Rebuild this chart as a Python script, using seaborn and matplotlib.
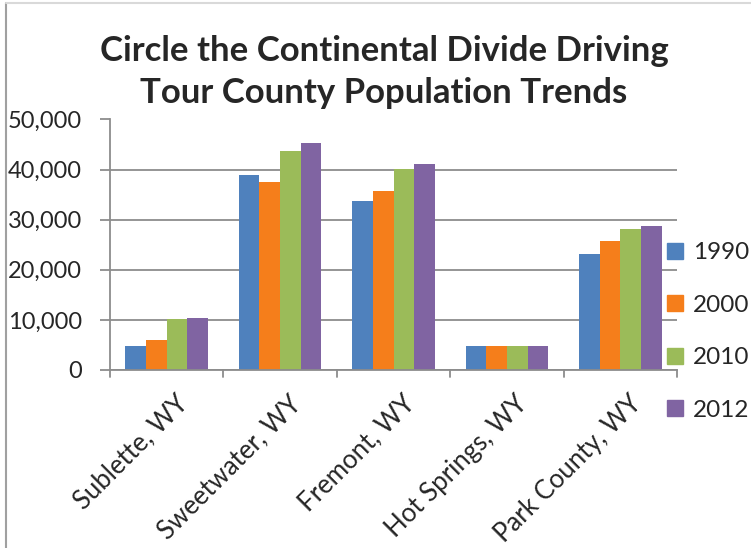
import matplotlib
matplotlib.use("Agg")
import matplotlib.pyplot as plt
import matplotlib.ticker as mticker
import matplotlib.transforms as mtransforms
from matplotlib.lines import Line2D
import seaborn as sns
import pandas as pd

counties = ["Sublette, WY", "Sweetwater, WY", "Fremont, WY", "Hot Springs, WY", "Park County, WY"]
years = ["1990", "2000", "2010", "2012"]
pop_1990 = [4843, 38823, 33662, 4809, 23178]
pop_2000 = [5920, 37613, 35804, 4882, 25786]
pop_2010 = [10247, 43806, 40123, 4812, 28205]
pop_2012 = [10300, 45267, 41110, 4812, 28702]
colors = ["#4F81BD", "#F57E1B", "#9BBB59", "#8064A2"]

rows = []
for yr, vals in zip(years, [pop_1990, pop_2000, pop_2010, pop_2012]):
    for c, v in zip(counties, vals):
        rows.append({"County": c, "Year": yr, "Population": v})
df = pd.DataFrame(rows)

sns.set_style("white")
plt.rcParams["font.family"] = ["Lato", "DejaVu Sans"]

fig = plt.figure(figsize=(7.51, 5.48), dpi=100)
ax = fig.add_axes([110 / 751, 1 - 370 / 548, (677 - 110) / 751, (370 - 119.5) / 548])

sns.barplot(data=df, x="County", y="Population", hue="Year", order=counties,
            hue_order=years, palette=colors, width=0.73, saturation=1,
            linewidth=0, ax=ax, legend=False)

ax.set_xlim(-0.5, 4.5)
ax.set_ylim(0, 50000)
ax.yaxis.set_major_locator(mticker.MultipleLocator(10000))
ax.yaxis.set_major_formatter(mticker.FuncFormatter(lambda v, p: f"{int(v):,}"))
ax.grid(axis="y", color="#8c8c8c", linewidth=1.3)
ax.set_axisbelow(True)
ax.set_xlabel("")
ax.set_ylabel("")

for side in ["top", "right"]:
    ax.spines[side].set_visible(False)
for side in ["left", "bottom"]:
    ax.spines[side].set_color("#8c8c8c")
    ax.spines[side].set_linewidth(1.3)

# category boundary ticks on x, outward ticks on y
ax.set_xticks(range(len(counties)))
ax.set_xticklabels(counties, rotation=45, ha="right", rotation_mode="anchor",
                   fontsize=18.5)
ax.tick_params(axis="x", length=0, pad=15)
shift = mtransforms.ScaledTranslation(8 / 100, 0, fig.dpi_scale_trans)
for lbl in ax.get_xticklabels():
    lbl.set_transform(lbl.get_transform() + shift)
for b in [i - 0.5 for i in range(len(counties) + 1)]:
    ax.plot([b, b], [0, -0.028], transform=ax.get_xaxis_transform(),
            color="#8c8c8c", lw=1.3, clip_on=False)
ax.tick_params(axis="y", length=7, width=1.3, color="#8c8c8c", labelsize=17,
               pad=13, left=True)

handles = [Line2D([], [], marker="s", linestyle="", markersize=11,
                  markerfacecolor=c, markeredgecolor=c) for c in colors]
fig.legend(handles, years, loc="upper left", bbox_to_anchor=(664 / 751, 1 - 242 / 548),
           frameon=False, fontsize=17.5, handletextpad=0.3, labelspacing=1.3,
           handlelength=0.9, borderpad=0, borderaxespad=0)

fig.text(384 / 751, 1 - 72 / 548,
         "Circle the Continental Divide Driving\nTour County Population Trends",
         ha="center", va="center", fontsize=25, fontweight="bold",
         linespacing=1.4)

# frame lines on left and top edges
fig.add_artist(Line2D([6 / 751, 6 / 751], [0, 1 - 3 / 548], transform=fig.transFigure,
                      color="#a0a0a0", lw=1.5))
fig.add_artist(Line2D([6 / 751, 1], [1 - 3 / 548, 1 - 3 / 548], transform=fig.transFigure,
                      color="#d9d9d9", lw=1.5))

fig.savefig("out.png", dpi=100)
